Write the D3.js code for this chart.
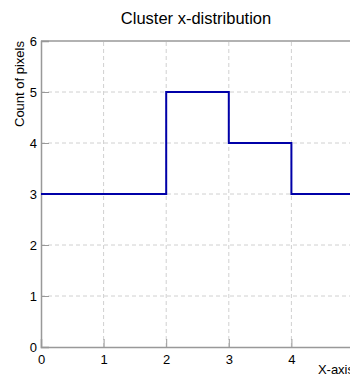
<!DOCTYPE html>
<html><head><meta charset="utf-8">
<script src="https://cdn.jsdelivr.net/npm/d3@7"></script>
<style>body{margin:0;background:#fff;}svg{display:block;font-family:"Liberation Sans",Arial,sans-serif;}</style>
</head><body>
<script>
const binEdges = [0,1,2,3,4,5];
const counts = [3,3,5,4,3];
const xTicks = [0,1,2,3,4];
const yTicks = [0,1,2,3,4,5,6];
const title = "Cluster x-distribution";
const xLabel = "X-axis";
const yLabel = "Count of pixels";

const W=350,H=377;
const m={l:41,t:41,r:-4,b:30};
const svg=d3.select("body").append("svg").attr("width",W).attr("height",H);
const x=d3.scaleLinear().domain([0,5]).range([m.l,W-m.r]);
const y=d3.scaleLinear().domain([0,6]).range([H-m.b,m.t]);

// grid
const g=svg.append("g");
g.selectAll(".gx").data(xTicks.slice(1)).enter().append("line")
 .attr("x1",d=>x(d)).attr("x2",d=>x(d)).attr("y1",y(0)).attr("y2",y(6))
 .attr("stroke","#d0d0d0").attr("stroke-dasharray","4,3").attr("stroke-width",1);
g.selectAll(".gy").data(yTicks.slice(1,-1)).enter().append("line")
 .attr("x1",x(0)).attr("x2",x(5)).attr("y1",d=>y(d)).attr("y2",d=>y(d))
 .attr("stroke","#d0d0d0").attr("stroke-dasharray","4,3").attr("stroke-width",1);

// axes
const xa=svg.append("g").attr("transform",`translate(0,${y(0)})`)
 .call(d3.axisBottom(x).tickValues(xTicks).tickSize(-8).tickPadding(8).tickFormat(d3.format("d")));
const ya=svg.append("g").attr("transform",`translate(${x(0)},0)`)
 .call(d3.axisLeft(y).tickValues(yTicks).tickSize(-8).tickPadding(4).tickFormat(d3.format("d")));
[xa,ya].forEach(a=>{a.select(".domain").attr("stroke","#999").attr("stroke-width",1.5);
 a.selectAll(".tick line").attr("stroke","#999");
 a.selectAll("text").attr("fill","#000").style("font-size","13px").style("font-family","Liberation Sans, Arial, sans-serif");});
ya.selectAll(".tick text").attr("dy","0.32em");
// top frame
svg.append("line").attr("x1",x(0)).attr("x2",x(5)).attr("y1",y(6)).attr("y2",y(6)).attr("stroke","#999").attr("stroke-width",1.5);

// histogram step
const pts=[];
counts.forEach((c,i)=>{pts.push([binEdges[i],c]);pts.push([binEdges[i+1],c]);});
svg.append("path").datum(pts)
 .attr("d",d3.line().x(d=>x(d[0])).y(d=>y(d[1])))
 .attr("fill","none").attr("stroke","#0000a8").attr("stroke-width",2);

svg.append("text").attr("x",196).attr("y",24).attr("text-anchor","middle")
 .style("font-size","16.5px").text(title);
svg.append("text").attr("x",354).attr("y",374).attr("text-anchor","end")
 .style("font-size","13px").text(xLabel);
svg.append("text").attr("transform",`translate(24,${y(6)}) rotate(-90)`).attr("text-anchor","end")
 .style("font-size","13px").text(yLabel);
</script>
</body></html>
